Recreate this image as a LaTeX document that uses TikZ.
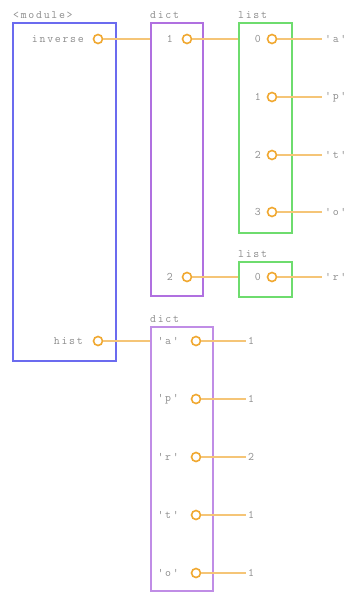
\documentclass[tikz,border=0pt]{standalone}
\usepackage{fontspec}
\setmonofont{Latin Modern Mono}[LetterSpace=15]
\definecolor{modc}{HTML}{6B6BEF}
\definecolor{dictc}{HTML}{B070E0}
\definecolor{listc}{HTML}{6EDC6E}
\definecolor{portc}{HTML}{F0A830}
\definecolor{wirec}{HTML}{F5C577}
\definecolor{txtc}{HTML}{8C8C8C}
\begin{document}
\begin{tikzpicture}[x=1pt,y=-1pt,
  lbl/.style={font=\ttfamily\fontsize{11.5}{11.5}\selectfont, text=txtc, inner sep=0pt},
  frame/.style={draw, line width=1.6pt, anchor=north west, inner sep=0pt},
  port/.style={circle, draw=portc, fill=white, line width=1.6pt, minimum size=9pt, inner sep=0pt},
  wire/.style={draw=wirec, line width=1.6pt}]
\useasboundingbox (0,0) rectangle (349,592);
% frames
\node[frame, draw=modc, minimum width=103pt, minimum height=338pt] (mod) at (12,22) {};
\node[frame, draw=dictc, minimum width=52pt, minimum height=273pt] (d1) at (150,22) {};
\node[frame, draw=listc, minimum width=53pt, minimum height=210pt] (l1) at (238,22) {};
\node[frame, draw=listc, minimum width=53pt, minimum height=35pt] (l2) at (238,261) {};
\node[frame, draw=dictc!80, minimum width=62pt, minimum height=264pt] (d2) at (150,326) {};
% frame labels
\node[lbl, anchor=west] (tmod) at (13,15) {<module>};
\node[lbl, anchor=west] (td1) at (150,15) {dict};
\node[lbl, anchor=west] (tl1) at (238,15) {list};
\node[lbl, anchor=west] (tl2) at (238,254) {list};
\node[lbl, anchor=west] (td2) at (150,319) {dict};
% module entries
\node[lbl, anchor=east] (kinv) at (84,39) {inverse};
\node[lbl, anchor=east] (khist) at (83,341) {hist};
\node[port] (pinv) at (98,39) {};
\node[port] (phist) at (98,341) {};
% dict 1 entries
\node[lbl, anchor=east] (k1) at (173,39) {1};
\node[lbl, anchor=east] (k2) at (173,277) {2};
\node[port] (p1) at (187,39) {};
\node[port] (p2) at (187,277) {};
% list 1 entries
\foreach \i/\y/\v in {0/39/a,1/97/p,2/155/t,3/212/o}{
  \node[lbl, anchor=east] (li\i) at (261,\y) {\i};
  \node[port] (lp\i) at (272,\y) {};
  \node[lbl, anchor=west] (lv\i) at (325,\y) {'\v'};
}
% list 2 entry
\node[lbl, anchor=east] (mi0) at (261,277) {0};
\node[port] (mp0) at (272,277) {};
\node[lbl, anchor=west] (mv0) at (325,277) {'r'};
% dict 2 entries
\foreach \i/\y/\k/\v in {0/341/a/1,1/399/p/1,2/457/r/2,3/515/t/1,4/573/o/1}{
  \node[lbl, anchor=east] (dk\i) at (179,\y) {'\k'};
  \node[port] (dp\i) at (196,\y) {};
  \node[lbl, anchor=west] (dv\i) at (248,\y) {\v};
}
% wires
\begin{scope}[wire]
\draw (pinv.east) -- (pinv.east -| d1.west);
\draw (phist.east) -- (phist.east -| d2.west);
\draw (p1.east) -- (p1.east -| l1.west);
\draw (p2.east) -- (p2.east -| l2.west);
\foreach \i in {0,1,2,3}{ \draw (lp\i.east) -- ([xshift=-3pt]lv\i.west); }
\draw (mp0.east) -- ([xshift=-3pt]mv0.west);
\foreach \i in {0,...,4}{ \draw (dp\i.east) -- ([xshift=-2pt]dv\i.west); }
\end{scope}
\end{tikzpicture}
\end{document}
